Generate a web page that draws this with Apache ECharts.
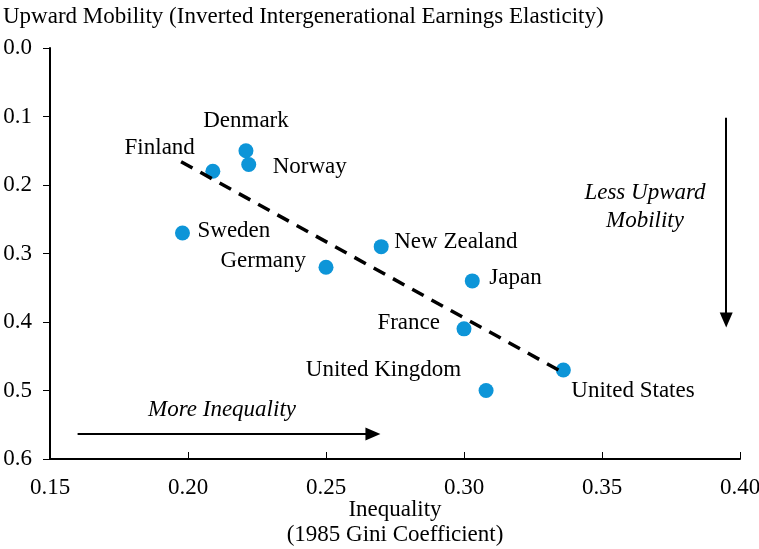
<!DOCTYPE html>
<html>
<head>
<meta charset="utf-8">
<script src="https://cdn.jsdelivr.net/npm/echarts@6/dist/echarts.min.js"></script>
<style>
  html, body { margin: 0; padding: 0; background: #fff; }
  #chart { width: 759px; height: 549px; }
</style>
</head>
<body>
<div id="chart"></div>
<script>
// countries and their (Gini 1985, inverted IGE) values
var countries = ["Denmark", "Norway", "Finland", "Sweden", "Germany", "New Zealand", "Japan", "France", "United Kingdom", "United States"];
var gini = [0.221, 0.222, 0.209, 0.198, 0.250, 0.270, 0.303, 0.300, 0.308, 0.336];
var elasticity = [0.15, 0.17, 0.18, 0.27, 0.32, 0.29, 0.34, 0.41, 0.50, 0.47];
// fitted dashed trend line end points
var trendLine = [[0.1975, 0.166], [0.336, 0.474]];
var xTicks = { min: 0.15, max: 0.40, step: 0.05 };
var yTicks = { min: 0, max: 0.6, step: 0.1 };

var FONT = "Liberation Serif";
var FS = 23;

// where each country label sits relative to its dot
var labelLayout = {
  "Denmark":        { align: "center", offset: [0, -30] },
  "Finland":        { align: "right",  offset: [-18, -23] },
  "Norway":         { align: "left",   offset: [24, 3] },
  "Sweden":         { align: "left",   offset: [15, -2] },
  "Germany":        { align: "right",  offset: [-20, -6] },
  "New Zealand":    { align: "left",   offset: [13, -5] },
  "Japan":          { align: "left",   offset: [17, -3] },
  "France":         { align: "right",  offset: [-24, -6] },
  "United Kingdom": { align: "right",  offset: [-25, -21] },
  "United States":  { align: "left",   offset: [8, 21] }
};

var points = countries.map(function (c, i) {
  var l = labelLayout[c];
  return {
    name: c,
    value: [gini[i], elasticity[i]],
    label: { align: l.align, offset: l.offset }
  };
});

function txt(x, y, s, italic, align) {
  return {
    type: "text", x: x, y: y,
    style: {
      text: s, font: (italic ? "italic " : "") + FS + "px " + FONT,
      fill: "#000", align: align || "center", verticalAlign: "middle"
    }
  };
}

var chart = echarts.init(document.getElementById("chart"));
chart.setOption({
  animation: false,
  textStyle: { fontFamily: FONT },
  grid: { left: 50, right: 19, top: 48, bottom: 90, outerBoundsMode: "none" },
  xAxis: {
    type: "value",
    min: xTicks.min,
    max: xTicks.max,
    interval: xTicks.step,
    splitLine: { show: false },
    axisLine: { onZero: false, lineStyle: { color: "#000", width: 2 } },
    axisTick: { inside: true, length: 7, lineStyle: { color: "#000", width: 1 } },
    axisLabel: {
      color: "#000", fontSize: FS, fontFamily: FONT, margin: 17,
      formatter: function (v) { return v.toFixed(2); }
    }
  },
  yAxis: {
    type: "value",
    inverse: true,
    min: yTicks.min,
    max: yTicks.max,
    interval: yTicks.step,
    splitLine: { show: false },
    axisLine: { onZero: false, lineStyle: { color: "#000", width: 2 } },
    axisTick: { length: 7, lineStyle: { color: "#000", width: 1 } },
    axisLabel: {
      color: "#000", fontSize: FS, fontFamily: FONT, margin: 18,
      formatter: function (v) { return v.toFixed(1); }
    }
  },
  graphic: [
    txt(3, 17, "Upward Mobility (Inverted Intergenerational Earnings Elasticity)", false, "left"),
    txt(395, 510, "Inequality"),
    txt(395, 535, "(1985 Gini Coefficient)"),
    txt(222, 410, "More Inequality", true),
    txt(645, 193, "Less Upward", true),
    txt(645, 221, "Mobility", true)
  ],
  series: [
    {
      type: "line",
      data: trendLine,
      symbol: "none",
      silent: true,
      z: 3,
      lineStyle: { color: "#000", width: 3.5, type: [13, 9] },
      markLine: {
        silent: true,
        symbol: ["none", "triangle"],
        symbolSize: [13, 15],
        label: { show: false },
        lineStyle: { color: "#000", width: 2, type: "solid" },
        data: [
          [{ coord: [0.16, 0.5635] }, { coord: [0.267, 0.5635] }],
          [{ coord: [0.395, 0.102] }, { coord: [0.395, 0.397] }]
        ]
      }
    },
    {
      type: "scatter",
      data: points,
      symbolSize: 15,
      z: 2,
      itemStyle: { color: "#0d95d8", opacity: 1 },
      label: {
        show: true,
        position: "inside",
        formatter: "{b}",
        color: "#000",
        fontSize: FS,
        fontFamily: FONT,
        verticalAlign: "middle"
      }
    }
  ]
});
</script>
</body>
</html>
